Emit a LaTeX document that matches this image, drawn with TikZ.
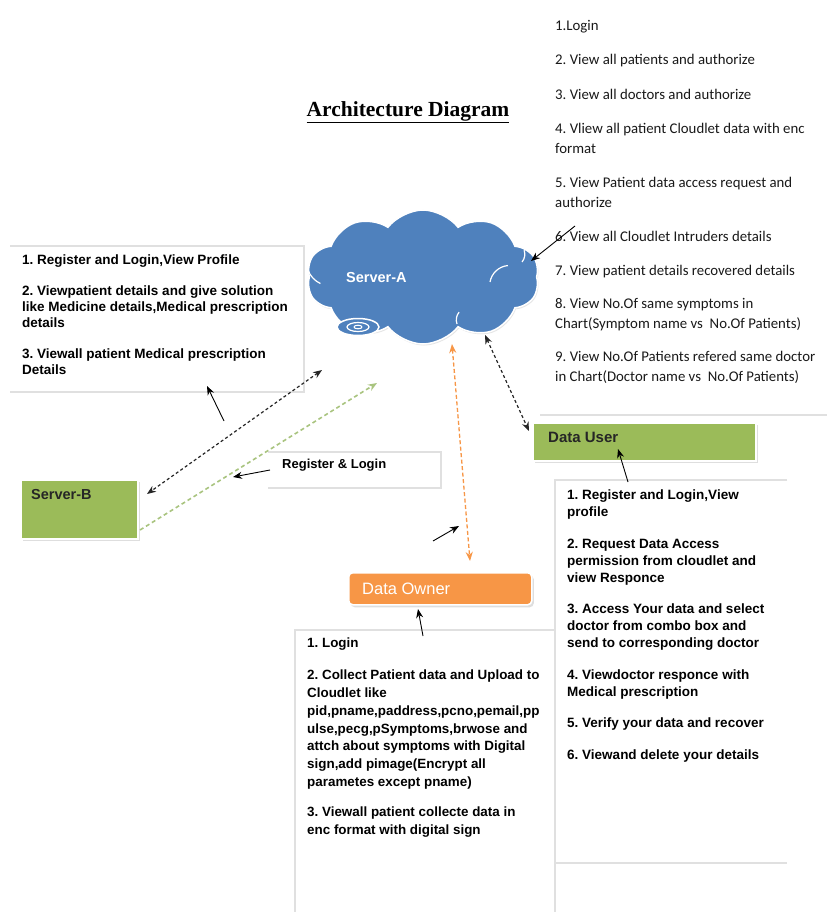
\documentclass[tikz,border=0pt]{standalone}
\usepackage{fontspec}
\setmainfont{Liberation Sans}
\newfontfamily\calibrifont{Carlito}
\newfontfamily\titlefont{Liberation Serif}
\usetikzlibrary{shapes.symbols,arrows.meta,shadows}
\definecolor{cgreen}{HTML}{9BBB59}
\definecolor{cblue}{HTML}{4F81BD}
\definecolor{corange}{HTML}{F79646}
\definecolor{cline}{HTML}{E0E0E0}
\definecolor{cdash}{HTML}{A9C47F}
\frenchspacing
\begin{document}
\begin{tikzpicture}[x=1pt,y=-1pt,
  boxline/.style={draw=cline,line width=1.2pt},
  greenbox/.style={fill=cgreen,draw=white,line width=1.5pt,drop shadow={shadow xshift=2pt,shadow yshift=-2.5pt,fill=black!25}},
  orangebox/.style={fill=corange,draw=white,line width=1.5pt,rounded corners=4pt,drop shadow={shadow xshift=2pt,shadow yshift=-2.5pt,fill=black!25}},
  arialtext/.style={inner sep=0pt,align=left,font=\bfseries\fontsize{13.5}{16}\selectfont},
  solidarrow/.style={-{Stealth[length=9pt,width=7pt]},line width=0.9pt,black},
  blackdash/.style={{Stealth[length=9pt,width=7pt]}-{Stealth[length=9pt,width=7pt]},line width=1.2pt,black!85,dash pattern=on 3pt off 2.5pt},
  greendash/.style={-{Stealth[length=9pt,width=7pt]},line width=1.6pt,cdash,dash pattern=on 4pt off 3pt},
  orangedash/.style={{Stealth[length=9pt,width=7pt]}-{Stealth[length=9pt,width=7pt]},line width=1.3pt,corange,dash pattern=on 4pt off 2.5pt}
]
\useasboundingbox[fill=white] (0,0) rectangle (827,912);

% title
\node[font=\titlefont\bfseries\fontsize{21.5}{24}\selectfont] (title) at (408,112) {\underline{Architecture Diagram}};

% right text (admin of server)
\node[anchor=north west,inner sep=0pt,align=left,text=black!90,font=\calibrifont\fontsize{14.8}{19.5}\selectfont] (admintext) at (555,20) {%
1.Login\\[15pt]
2. View all patients and authorize\\[15pt]
3. View all doctors and authorize\\[15pt]
4. Vliew all patient Cloudlet data with enc\\
format\\[15pt]
5. View Patient data access request and\\
authorize\\[15pt]
6. View all Cloudlet Intruders details\\[14pt]
7. View patient details recovered details\\[14pt]
8. View No.Of same symptoms in\\
Chart(Symptom name vs\ \ No.Of Patients)\\[14pt]
9. View No.Of Patients refered same doctor\\
in Chart(Doctor name vs\ \ No.Of Patients)};
\coordinate (adminbottomL) at (540,415);
\coordinate (adminbottomR) at (827,415);
\draw[boxline] (adminbottomL) -- (adminbottomR);

% left box (Server-B functions)
\coordinate (lb1) at (10,246);
\coordinate (lb2) at (304,246);
\coordinate (lb3) at (304,392);
\coordinate (lb4) at (10,392);
\draw[boxline] (lb1) -- (lb2) -- (lb3) -- (lb4);
\node[anchor=north west,arialtext] (servbtext) at (22,255) {%
1. Register and Login,View Profile\\[15pt]
2. Viewpatient details and give solution\\
like Medicine details,Medical prescription\\
details\\[15pt]
3. Viewall patient Medical prescription\\
Details};

% cloud Server-A
\node[cloud,cloud puffs=10,cloud puff arc=105,aspect=2.1,minimum width=232pt,minimum height=134pt,
      fill=cblue,draw=white,line width=1.5pt,drop shadow={shadow xshift=1pt,shadow yshift=-1.5pt,fill=black!20}] (serverA) at (423,277) {};
\draw[white,line width=1.2pt] (308,270) arc[start angle=200,end angle=245,radius=24pt];
\draw[white,line width=1.2pt] (522,262) arc[start angle=-40,end angle=20,radius=12pt];
\draw[white,line width=1.2pt] (490,282) arc[start angle=170,end angle=95,radius=20pt];
\draw[white,line width=1.2pt] (457,324) arc[start angle=200,end angle=140,radius=12pt];
\draw[fill=cblue,draw=white,line width=1.5pt] (358,327) ellipse[x radius=21pt,y radius=8.5pt];
\draw[draw=white,line width=1.2pt] (358,327) ellipse[x radius=11pt,y radius=4.5pt];
\draw[draw=white,line width=1pt] (358,327) ellipse[x radius=4pt,y radius=1.8pt];
\node[anchor=west,inner sep=0pt,text=white,font=\bfseries\fontsize{14.5}{16}\selectfont] (serverAlabel) at (346,278) {Server-A};

% Server-B
\node[greenbox,anchor=north west,minimum width=117pt,minimum height=59pt,inner sep=0pt] (serverB) at (20,479) {};
\node[anchor=west,inner sep=0pt,text=black!85,font=\bfseries\fontsize{14.5}{16}\selectfont] (serverBlabel) at (31,495) {Server-B};

% Register & Login box
\coordinate (rl1) at (268,452);
\coordinate (rl2) at (441,452);
\coordinate (rl3) at (441,488);
\coordinate (rl4) at (268,488);
\draw[boxline] (rl1) -- (rl2) -- (rl3) -- (rl4);
\node[anchor=west,inner sep=0pt,font=\bfseries\fontsize{13}{15}\selectfont] (reglogin) at (282,465) {Register \& Login};

% Data User
\node[greenbox,anchor=north west,minimum width=223pt,minimum height=38pt,inner sep=0pt] (datauser) at (532,422) {};
\node[anchor=west,inner sep=0pt,text=black!85,font=\bfseries\fontsize{15}{16}\selectfont] (datauserlabel) at (548,437) {Data User};

% Data User text box
\coordinate (du1) at (787,480);
\coordinate (du2) at (555,480);
\coordinate (du3) at (555,912);
\coordinate (du4) at (555,863);
\coordinate (du5) at (787,863);
\draw[boxline] (du1) -- (du2) -- (du3);
\draw[boxline] (du4) -- (du5);
\node[anchor=north west,arialtext,font=\bfseries\fontsize{13.5}{17}\selectfont] (datausertext) at (567,490) {%
1. Register and Login,View\\
profile\\[14.5pt]
2. Request Data Access\\
permission from cloudlet and\\
view Responce\\[14.5pt]
3. Access Your data and select\\
doctor from combo box and\\
send to corresponding doctor\\[14.5pt]
4. Viewdoctor responce with\\
Medical prescription\\[14.5pt]
5. Verify your data and recover\\[14.5pt]
6. Viewand delete your details};

% Data Owner
\node[orangebox,anchor=north west,minimum width=183pt,minimum height=32pt,inner sep=0pt] (dataowner) at (348,572) {};
\node[anchor=west,inner sep=0pt,text=white,font=\fontsize{16.5}{18}\selectfont] (dataownerlabel) at (362,589) {Data Owner};

% Data Owner text box
\coordinate (do1) at (555,630);
\coordinate (do2) at (295,630);
\coordinate (do3) at (295,912);
\draw[boxline] (do1) -- (do2) -- (do3);
\node[anchor=north west,arialtext,font=\bfseries\fontsize{13.4}{17.8}\selectfont] (dataownertext) at (307,638) {%
1. Login\\[14pt]
2. Collect Patient data and Upload to\\
Cloudlet like\\
pid,pname,paddress,pcno,pemail,pp\\
ulse,pecg,pSymptoms,brwose and\\
attch about symptoms with Digital\\
sign,add pimage(Encrypt all\\
parametes except pname)\\[12pt]
3. Viewall patient collecte data in\\
enc format with digital sign};

% connectors
\coordinate (a1s) at (575,226);
\coordinate (a1e) at (531,261);
\draw[solidarrow] (a1s) -- (a1e);

\coordinate (a2s) at (224,421);
\coordinate (a2e) at (207,386);
\draw[solidarrow] (a2s) -- (a2e);

\coordinate (a3s) at (322,370);
\coordinate (a3e) at (147,494);
\draw[blackdash] (a3s) -- (a3e);

\coordinate (a4s) at (140,530);
\coordinate (a4e) at (377,383);
\draw[greendash] (a4s) -- (a4e);

\coordinate (a5s) at (270,470);
\coordinate (a5e) at (233,477);
\draw[solidarrow] (a5s) -- (a5e);

\coordinate (a6s) at (452,344);
\coordinate (a6e) at (470,561);
\draw[orangedash] (a6s) -- (a6e);

\coordinate (a7s) at (433,541);
\coordinate (a7e) at (459,526);
\draw[solidarrow] (a7s) -- (a7e);

\coordinate (a8s) at (485,335);
\coordinate (a8e) at (529,431);
\draw[blackdash] (a8s) -- (a8e);

\coordinate (a9s) at (628,482);
\coordinate (a9e) at (618,449);
\draw[solidarrow] (a9s) -- (a9e);

\coordinate (a10s) at (423,636);
\coordinate (a10e) at (418,609);
\draw[solidarrow] (a10s) -- (a10e);
\end{tikzpicture}
\end{document}
